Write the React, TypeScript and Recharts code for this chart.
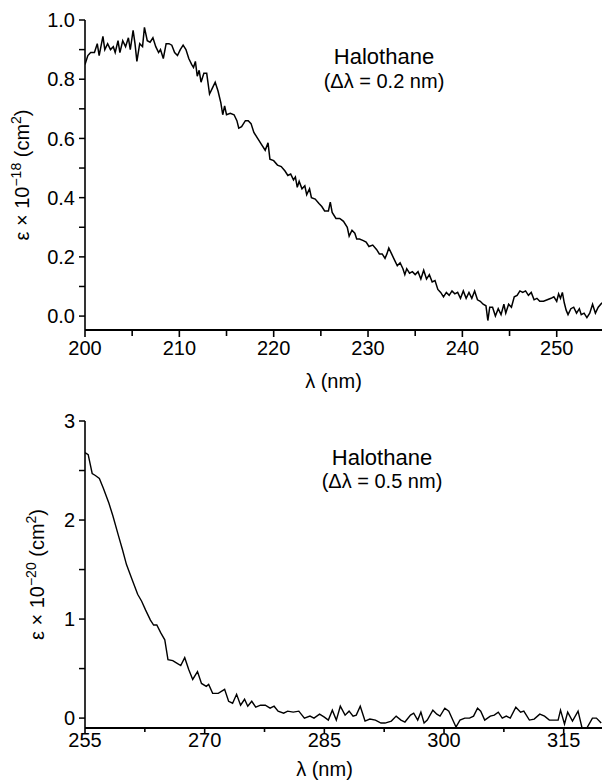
import { LineChart, Line, XAxis, YAxis, Label } from 'recharts';

// short-wavelength scan, 0.2 nm resolution
const wlShort = [
  200.0, 200.3, 200.6, 201.0, 201.3, 201.5, 201.9, 202.1, 202.4, 202.7,
  203.0, 203.2, 203.5, 203.7, 204.0, 204.3, 204.6, 204.8, 205.1, 205.3,
  205.5, 205.8, 206.1, 206.3, 206.6, 206.9, 207.2, 207.5, 207.8, 208.0,
  208.3, 208.6, 208.9, 209.2, 209.5, 209.8, 210.1, 210.4, 210.7, 211.0,
  211.3, 211.5, 211.7, 211.9, 212.1, 212.3, 212.6, 212.9, 213.2, 213.5,
  213.8, 214.1, 214.4, 214.6, 214.8, 215.0, 215.4, 215.8, 216.1, 216.3,
  216.6, 217.0, 217.3, 217.6, 217.9, 218.3, 218.7, 219.1, 219.4, 219.6,
  220.0, 220.4, 220.8, 221.2, 221.5, 221.8, 222.1, 222.3, 222.5, 222.7,
  223.0, 223.3, 223.5, 223.8, 224.0, 224.4, 224.8, 225.1, 225.4, 225.8,
  226.0, 226.2, 226.6, 227.0, 227.4, 227.8, 228.0, 228.3, 228.6, 228.8,
  229.1, 229.5, 229.8, 230.1, 230.5, 230.9, 231.2, 231.5, 231.8, 232.0,
  232.2, 232.5, 232.8, 233.1, 233.4, 233.7, 233.9, 234.1, 234.4, 234.7,
  235.0, 235.3, 235.6, 235.9, 236.2, 236.5, 236.8, 237.1, 237.4, 237.7,
  238.0, 238.3, 238.6, 238.9, 239.2, 239.5, 239.8, 240.1, 240.4, 240.7,
  241.0, 241.3, 241.6, 241.9, 242.2, 242.5, 242.7, 242.9, 243.2, 243.5,
  243.8, 244.1, 244.4, 244.6, 244.9, 245.2, 245.5, 245.8, 246.1, 246.4,
  246.7, 247.0, 247.3, 247.6, 247.9, 248.2, 248.6, 249.0, 249.4, 249.7,
  250.0, 250.2, 250.4, 250.6, 250.8, 251.0, 251.2, 251.5, 251.8, 252.1,
  252.4, 252.6, 252.9, 253.2, 253.5, 253.8, 254.1, 254.4, 254.8,
];
const epsShort = [
  0.85, 0.88, 0.89, 0.89, 0.92, 0.88, 0.945, 0.90, 0.92, 0.90,
  0.91, 0.89, 0.93, 0.89, 0.93, 0.91, 0.94, 0.90, 0.965, 0.92,
  0.86, 0.92, 0.91, 0.975, 0.93, 0.925, 0.94, 0.91, 0.89, 0.90,
  0.87, 0.92, 0.92, 0.915, 0.89, 0.88, 0.90, 0.915, 0.90, 0.87,
  0.85, 0.84, 0.86, 0.81, 0.83, 0.79, 0.82, 0.82, 0.75, 0.77,
  0.79, 0.76, 0.72, 0.68, 0.71, 0.68, 0.685, 0.68, 0.66, 0.635,
  0.64, 0.66, 0.66, 0.65, 0.62, 0.60, 0.58, 0.56, 0.585, 0.53,
  0.525, 0.51, 0.505, 0.49, 0.475, 0.48, 0.46, 0.47, 0.435, 0.455,
  0.43, 0.44, 0.41, 0.43, 0.40, 0.395, 0.38, 0.37, 0.355, 0.355,
  0.385, 0.35, 0.33, 0.33, 0.32, 0.30, 0.27, 0.29, 0.28, 0.26,
  0.26, 0.255, 0.25, 0.235, 0.24, 0.225, 0.21, 0.21, 0.195, 0.21,
  0.23, 0.21, 0.19, 0.17, 0.18, 0.16, 0.14, 0.16, 0.145, 0.15,
  0.14, 0.15, 0.125, 0.155, 0.125, 0.14, 0.115, 0.12, 0.09, 0.08,
  0.065, 0.08, 0.07, 0.085, 0.075, 0.08, 0.06, 0.085, 0.06, 0.08,
  0.06, 0.085, 0.055, 0.05, 0.04, 0.035, -0.015, 0.03, 0.03, 0.00,
  0.025, 0.005, 0.04, 0.01, 0.04, 0.03, 0.065, 0.07, 0.085, 0.08,
  0.085, 0.07, 0.08, 0.055, 0.06, 0.05, 0.05, 0.055, 0.06, 0.065,
  0.05, 0.075, 0.06, 0.08, 0.045, 0.02, 0.005, 0.025, 0.03, 0.01,
  0.025, 0.005, 0.01, -0.005, 0.01, 0.04, 0.01, 0.03, 0.045,
];

// long-wavelength scan, 0.5 nm resolution
const wlLong = [
  255.0, 255.4, 255.9, 256.3, 256.8, 257.3, 258.0, 258.5, 259.2, 259.7,
  260.2, 260.9, 261.6, 262.1, 262.6, 263.2, 263.6, 264.0, 264.5, 265.0,
  265.4, 266.0, 266.4, 267.0, 267.5, 268.0, 268.5, 269.1, 269.6, 270.2,
  270.5, 271.0, 271.7, 272.5, 273.0, 273.5, 274.0, 274.5, 275.0, 275.4,
  275.9, 276.4, 277.0, 277.6, 278.2, 278.7, 279.2, 279.9, 280.4, 281.1,
  281.8, 282.5, 283.2, 283.7, 284.4, 285.0, 285.5, 286.0, 286.5, 287.0,
  287.6, 288.1, 288.6, 289.0, 289.5, 290.1, 290.7, 291.4, 292.1, 292.6,
  293.4, 294.0, 294.6, 295.1, 295.8, 296.2, 296.7, 297.1, 297.5, 297.9,
  298.6, 299.1, 299.5, 300.1, 300.6, 301.1, 301.5, 302.0, 302.6, 303.2,
  303.7, 304.2, 304.6, 305.1, 305.8, 306.3, 306.8, 307.3, 307.8, 308.3,
  309.0, 309.6, 310.0, 310.7, 311.3, 312.0, 312.6, 313.2, 313.8, 314.3,
  314.6, 315.1, 315.5, 316.1, 316.8, 317.3, 317.9, 318.6, 319.1, 319.7,
];
const epsLong = [
  2.68, 2.66, 2.47, 2.45, 2.42, 2.32, 2.17, 2.04, 1.84, 1.70,
  1.55, 1.40, 1.25, 1.18, 1.09, 0.99, 0.94, 0.94, 0.86, 0.79,
  0.59, 0.58, 0.56, 0.53, 0.61, 0.49, 0.39, 0.47, 0.35, 0.32,
  0.34, 0.25, 0.25, 0.29, 0.17, 0.15, 0.24, 0.13, 0.19, 0.12,
  0.17, 0.11, 0.13, 0.13, 0.10, 0.12, 0.07, 0.05, 0.07, 0.06,
  0.07, 0.00, 0.02, 0.00, 0.04, 0.01, -0.02, 0.08, -0.02, 0.12,
  0.03, 0.07, 0.02, 0.03, 0.12, -0.03, -0.01, -0.02, -0.05, -0.05,
  -0.03, 0.02, -0.02, -0.04, 0.03, 0.05, -0.02, 0.06, -0.05, -0.02,
  0.08, 0.04, 0.02, 0.10, 0.07, -0.02, -0.09, -0.02, 0.00, 0.00,
  0.02, 0.10, 0.07, -0.02, 0.02, 0.03, 0.06, 0.00, 0.02, 0.00,
  0.11, 0.06, 0.07, -0.02, -0.01, 0.04, 0.02, -0.02, -0.02, -0.02,
  0.08, -0.06, 0.06, -0.03, 0.07, -0.10, -0.10, 0.00, 0.00, -0.05,
];

const xTicksShort = [200, 205, 210, 215, 220, 225, 230, 235, 240, 245, 250];
const xMajorShort = [200, 210, 220, 230, 240, 250];
const yTicksShort = [0, 0.1, 0.2, 0.3, 0.4, 0.5, 0.6, 0.7, 0.8, 0.9, 1.0];
const yMajorShort = [0, 0.2, 0.4, 0.6, 0.8, 1.0];

const xTicksLong = [255, 262.5, 270, 277.5, 285, 292.5, 300, 307.5, 315];
const xMajorLong = [255, 270, 285, 300, 315];
const yTicksLong = [0, 0.5, 1, 1.5, 2, 2.5, 3];
const yMajorLong = [0, 1, 2, 3];

const dataShort = wlShort.map((wl, i) => ({ wl, eps: epsShort[i] }));
const dataLong = wlLong.map((wl, i) => ({ wl, eps: epsLong[i] }));

const font = '"Liberation Sans", Arial, Helvetica, sans-serif';

const XTick = (props: any) => {
  const { x, y, payload, majors, len, gap } = props;
  const major = majors.includes(payload.value);
  return (
    <g>
      <line x1={x} x2={x} y1={y} y2={y + (major ? len : len - 1)} stroke="#000" strokeWidth={1.6} />
      {major && (
        <text x={x} y={y + gap} dy="0.72em" textAnchor="middle" fontSize={20} fontFamily={font} fill="#000">
          {payload.value}
        </text>
      )}
    </g>
  );
};

const YTick = (props: any) => {
  const { x, y, payload, majors, digits } = props;
  const major = majors.some((m: number) => Math.abs(m - payload.value) < 1e-6);
  return (
    <g>
      <line x1={x} x2={x - 6} y1={y} y2={y} stroke="#000" strokeWidth={1.5} />
      {major && (
        <text x={x - 10} y={y} dy="0.36em" textAnchor="end" fontSize={20} fontFamily={font} fill="#000">
          {payload.value.toFixed(digits)}
        </text>
      )}
    </g>
  );
};

const YTitle = (props: any) => {
  const { viewBox, exp, dx } = props;
  const cx = viewBox.x + dx;
  const cy = viewBox.y + viewBox.height / 2;
  return (
    <text x={cx} y={cy} transform={`rotate(-90 ${cx} ${cy})`} textAnchor="middle" fontSize={20} fontFamily={font} fill="#000">
      ε × 10
      <tspan dy={-8} fontSize={14}>{exp}</tspan>
      <tspan dy={8}> (cm</tspan>
      <tspan dy={-8} fontSize={14}>2</tspan>
      <tspan dy={8}>)</tspan>
    </text>
  );
};

const XTitle = (props: any) => {
  const { viewBox, dx, dy } = props;
  const cx = viewBox.x + viewBox.width / 2 + dx;
  return (
    <text x={cx} y={viewBox.y + dy} textAnchor="middle" fontSize={20} fontFamily={font} fill="#000">
      λ (nm)
    </text>
  );
};

export default function App() {
  return (
    <div style={{ position: 'absolute', left: 0, top: 0, width: 602, height: 783, background: '#fff' }}>
      <LineChart width={602} height={400} data={dataShort} margin={{ top: 20, right: 0, bottom: 0, left: 0 }}>
        <XAxis
          type="number"
          dataKey="wl"
          domain={[200, 254.8]}
          allowDataOverflow
          ticks={xTicksShort}
          interval={0}
          height={70}
          tickSize={0}
          tickMargin={0}
          axisLine={{ stroke: '#000', strokeWidth: 2 }}
          tick={(p: any) => <XTick {...p} majors={xMajorShort} len={7} gap={11} />}
        >
          <Label content={(p: any) => <XTitle {...p} dx={-10} dy={58} />} />
        </XAxis>
        <YAxis
          type="number"
          domain={[-0.047, 1.0]}
          allowDataOverflow
          ticks={yTicksShort}
          interval={0}
          width={85}
          tickSize={0}
          tickMargin={0}
          axisLine={{ stroke: '#000', strokeWidth: 1.6 }}
          tick={(p: any) => <YTick {...p} majors={yMajorShort} digits={1} />}
        >
          <Label content={(p: any) => <YTitle {...p} exp="−18" dx={29} />} />
        </YAxis>
        <Line type="linear" dataKey="eps" stroke="#000" strokeWidth={1.5} dot={false} isAnimationActive={false} />
      </LineChart>
      <LineChart width={602} height={383} data={dataLong} margin={{ top: 21, right: 0, bottom: 0, left: 0 }}>
        <XAxis
          type="number"
          dataKey="wl"
          domain={[255, 319.8]}
          allowDataOverflow
          ticks={xTicksLong}
          interval={0}
          height={55}
          tickSize={0}
          tickMargin={0}
          axisLine={{ stroke: '#000', strokeWidth: 2 }}
          tick={(p: any) => <XTick {...p} majors={xMajorLong} len={5} gap={5} />}
        >
          <Label content={(p: any) => <XTitle {...p} dx={-19} dy={48} />} />
        </XAxis>
        <YAxis
          type="number"
          domain={[-0.1, 3]}
          allowDataOverflow
          ticks={yTicksLong}
          interval={0}
          width={85}
          tickSize={0}
          tickMargin={0}
          axisLine={{ stroke: '#000', strokeWidth: 1.6 }}
          tick={(p: any) => <YTick {...p} majors={yMajorLong} digits={0} />}
        >
          <Label content={(p: any) => <YTitle {...p} exp="−20" dx={44} />} />
        </YAxis>
        <Line type="linear" dataKey="eps" stroke="#000" strokeWidth={1.4} dot={false} isAnimationActive={false} />
      </LineChart>
      <svg width={602} height={783} style={{ position: 'absolute', left: 0, top: 0, pointerEvents: 'none' }}>
        <text x={384} y={64} textAnchor="middle" fontSize={22} fontFamily={font} fill="#000">Halothane</text>
        <text x={384} y={88} textAnchor="middle" fontSize={20} fontFamily={font} fill="#000">(Δλ = 0.2 nm)</text>
        <text x={382} y={465} textAnchor="middle" fontSize={22} fontFamily={font} fill="#000">Halothane</text>
        <text x={382} y={488} textAnchor="middle" fontSize={20} fontFamily={font} fill="#000">(Δλ = 0.5 nm)</text>
      </svg>
    </div>
  );
}
